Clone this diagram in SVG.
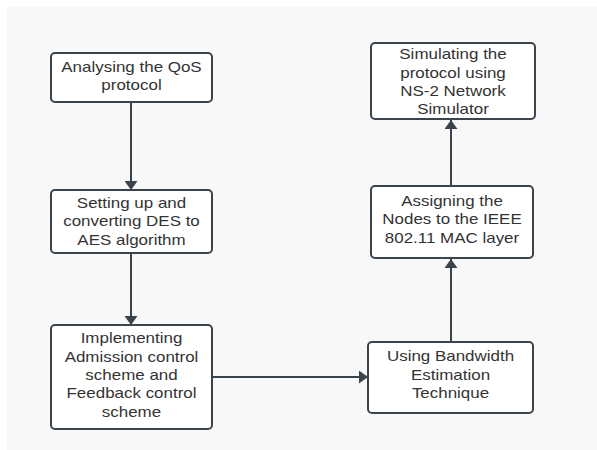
<svg xmlns="http://www.w3.org/2000/svg" width="597" height="450" viewBox="0 0 597 450">
  <defs>
    <style>
      .box { fill: #ffffff; stroke: #3b444c; stroke-width: 2; }
      .lbl { font-family: "Liberation Sans", Arial, sans-serif; font-size: 15px; fill: #333333; text-anchor: middle; }
      .edge { fill: none; stroke: #3b444c; stroke-width: 2; }
    </style>
    <marker id="arrow" markerWidth="10" markerHeight="13" refX="9" refY="6.5" orient="auto" markerUnits="userSpaceOnUse">
      <path d="M0,0 L9,6.5 L0,13 Z" fill="#3b444c"/>
    </marker>
  </defs>

  <!-- canvas -->
  <rect x="0" y="0" width="597" height="450" fill="#ffffff"/>
  <rect x="7" y="7" width="590" height="443" fill="#f8f8f8"/>

  <!-- connectors -->
  <g id="connectors">
    <line class="edge" x1="131" y1="103" x2="131" y2="190" marker-end="url(#arrow)"/>
    <line class="edge" x1="131" y1="254" x2="131" y2="325" marker-end="url(#arrow)"/>
    <line class="edge" x1="213" y1="377" x2="368" y2="377" marker-end="url(#arrow)"/>
    <line class="edge" x1="451" y1="341" x2="451" y2="259" marker-end="url(#arrow)"/>
    <line class="edge" x1="451" y1="185" x2="451" y2="120" marker-end="url(#arrow)"/>
  </g>

  <!-- nodes -->
  <g id="analyse">
    <rect class="box" x="51" y="53" width="161" height="49" rx="4"/>
    <g transform="translate(131.5,0) scale(1.13,1)">
      <text class="lbl" x="0" y="72.5">Analysing the QoS</text>
      <text class="lbl" x="0" y="90.5">protocol</text>
    </g>
  </g>

  <g id="setup">
    <rect class="box" x="51" y="190" width="161" height="63" rx="4"/>
    <g transform="translate(131.5,0) scale(1.13,1)">
      <text class="lbl" x="0" y="208">Setting up and</text>
      <text class="lbl" x="0" y="226.5">converting DES to</text>
      <text class="lbl" x="0" y="245">AES algorithm</text>
    </g>
  </g>

  <g id="implement">
    <rect class="box" x="51" y="325" width="161" height="104" rx="4"/>
    <g transform="translate(131.5,0) scale(1.13,1)">
      <text class="lbl" x="0" y="343.5">Implementing</text>
      <text class="lbl" x="0" y="361.8">Admission control</text>
      <text class="lbl" x="0" y="380.1">scheme and</text>
      <text class="lbl" x="0" y="398.4">Feedback control</text>
      <text class="lbl" x="0" y="416.7">scheme</text>
    </g>
  </g>

  <g id="bandwidth">
    <rect class="box" x="368" y="342" width="165" height="71" rx="4"/>
    <g transform="translate(450.5,0) scale(1.13,1)">
      <text class="lbl" x="0" y="361.5">Using Bandwidth</text>
      <text class="lbl" x="0" y="380">Estimation</text>
      <text class="lbl" x="0" y="398.3">Technique</text>
    </g>
  </g>

  <g id="assign">
    <rect class="box" x="371" y="186" width="162" height="72" rx="4"/>
    <g transform="translate(452,0) scale(1.13,1)">
      <text class="lbl" x="0" y="206">Assigning the</text>
      <text class="lbl" x="0" y="224.3">Nodes to the IEEE</text>
      <text class="lbl" x="0" y="242.6">802.11 MAC layer</text>
    </g>
  </g>

  <g id="simulate">
    <rect class="box" x="371" y="43" width="164" height="76" rx="4"/>
    <g transform="translate(453,0) scale(1.13,1)">
      <text class="lbl" x="0" y="59.5">Simulating the</text>
      <text class="lbl" x="0" y="77.6">protocol using</text>
      <text class="lbl" x="0" y="95.7">NS-2 Network</text>
      <text class="lbl" x="0" y="113.8">Simulator</text>
    </g>
  </g>
</svg>
